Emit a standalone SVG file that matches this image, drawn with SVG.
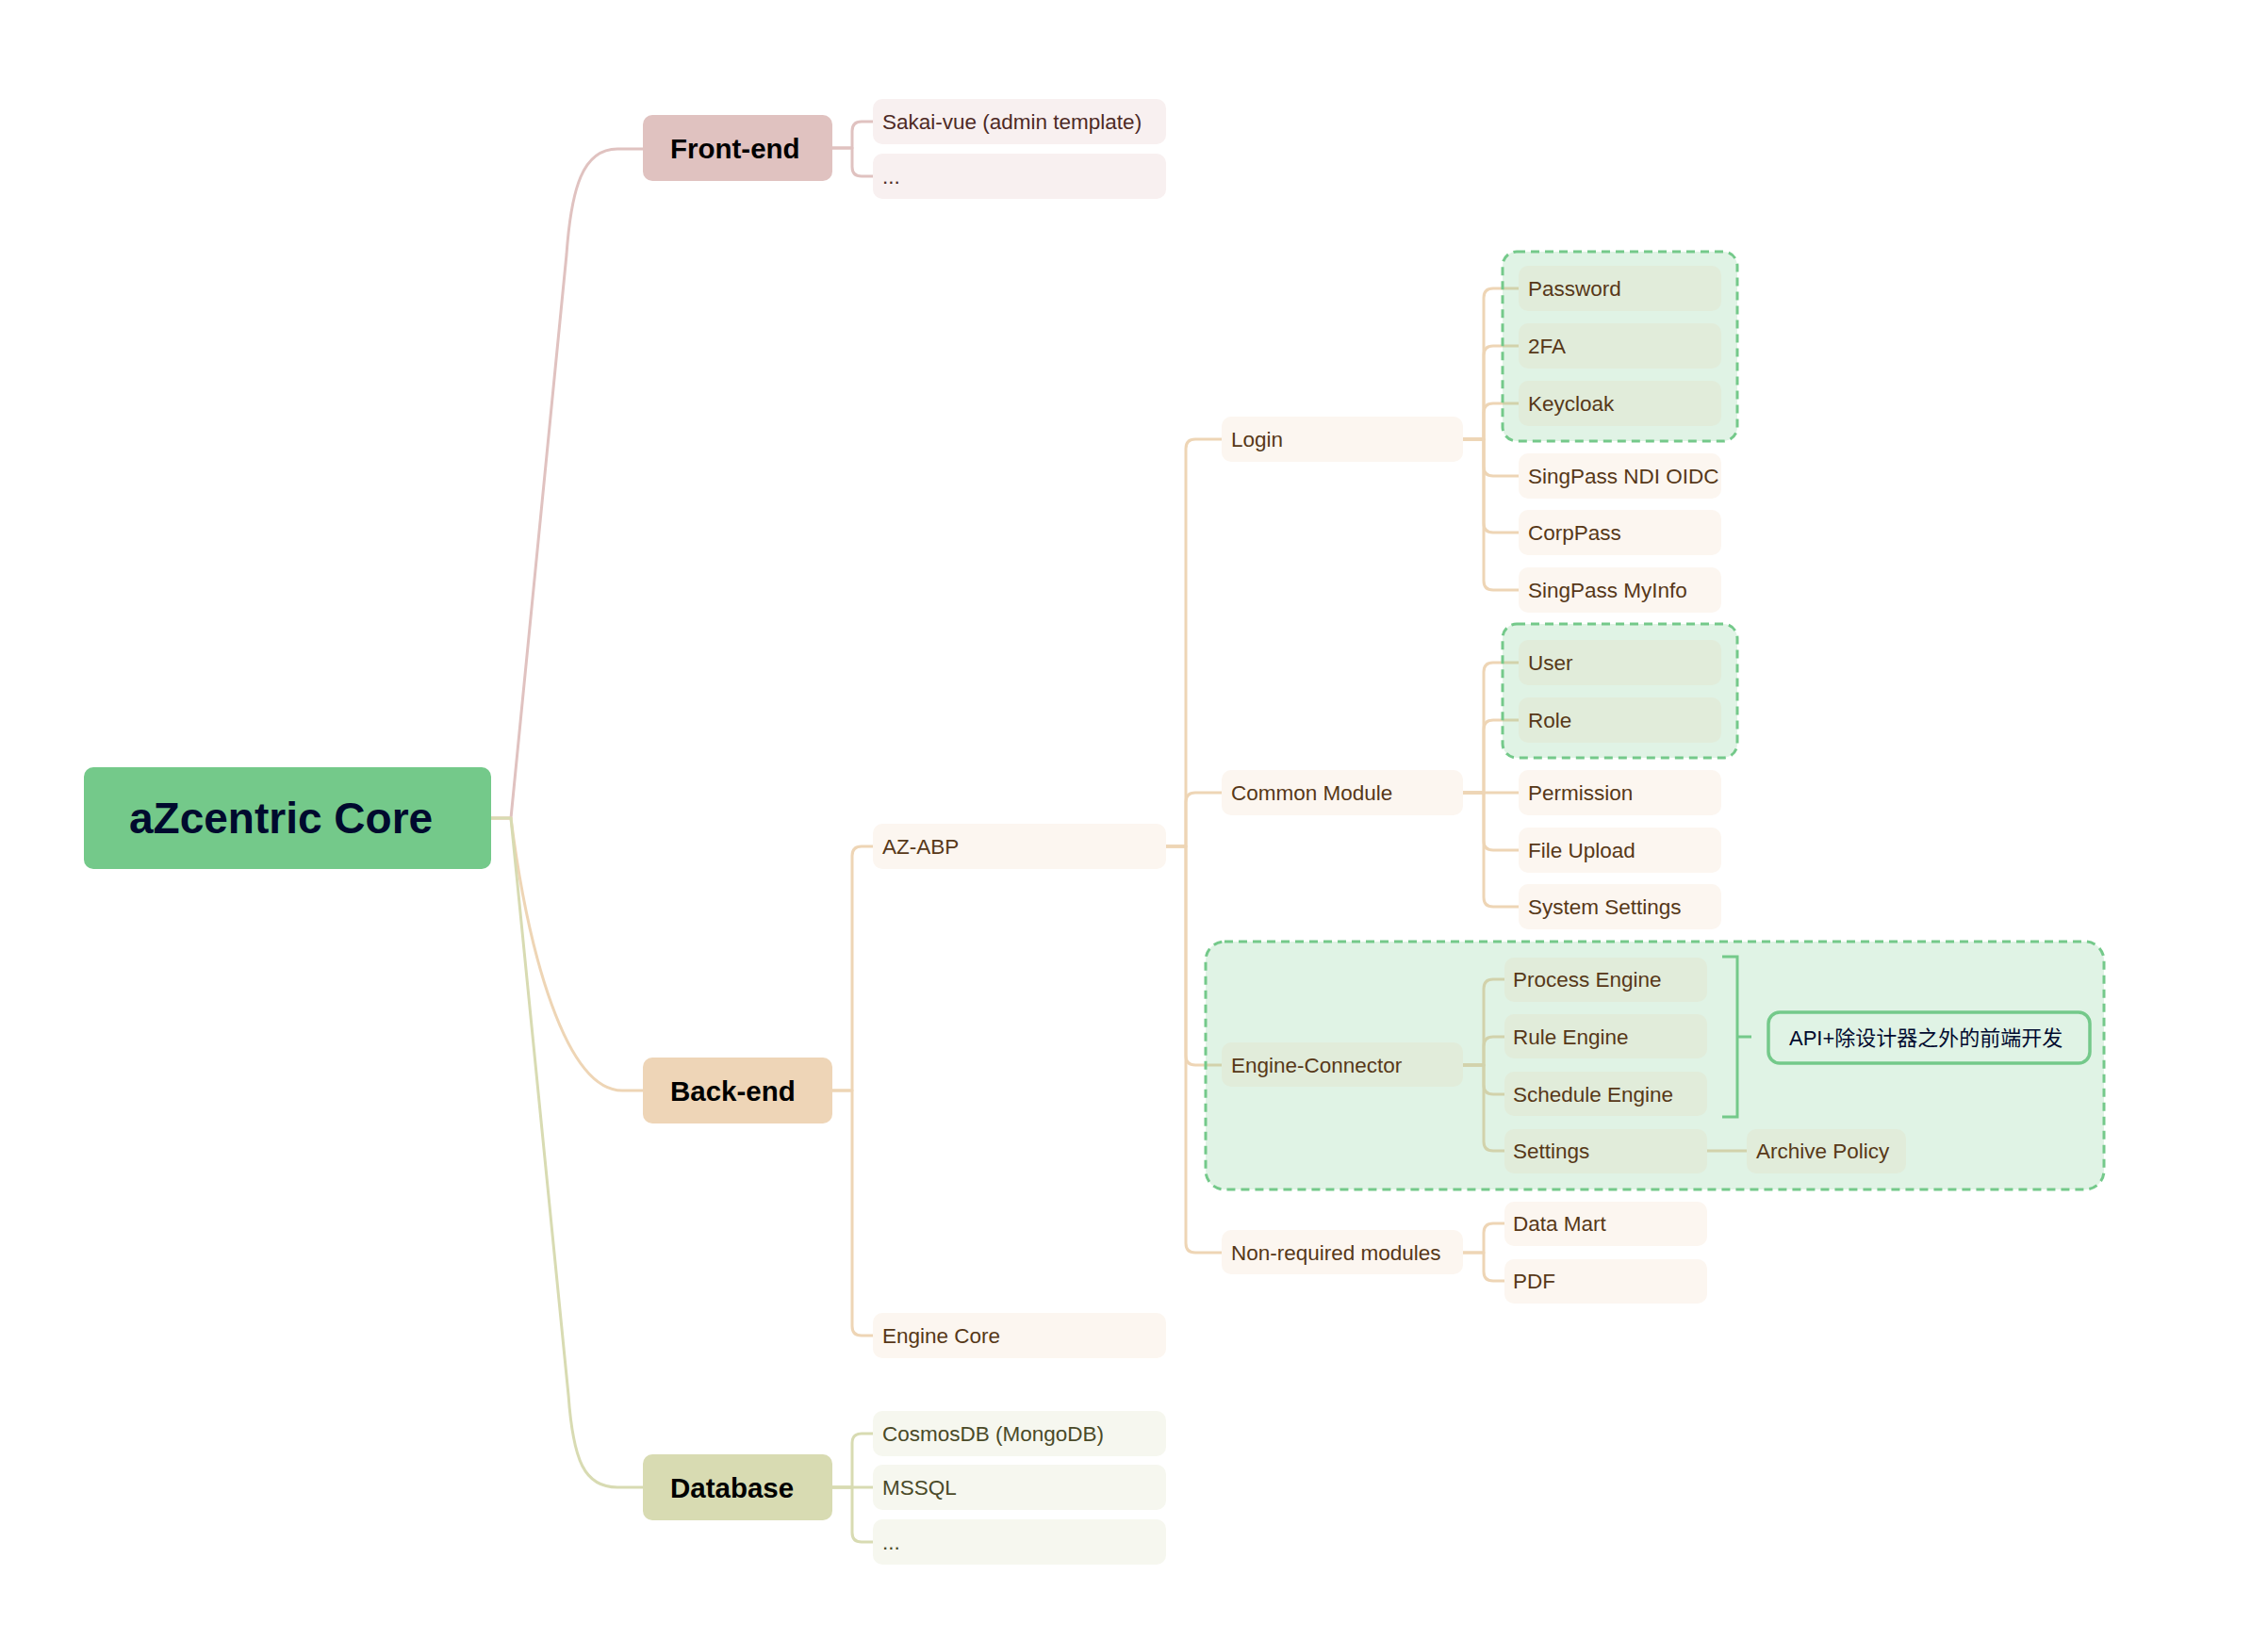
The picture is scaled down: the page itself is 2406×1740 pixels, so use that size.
<svg xmlns="http://www.w3.org/2000/svg" width="2406" height="1740" viewBox="0 0 2406 1740">
<style>
.c{fill:none;stroke-width:3;stroke-linejoin:round}
.fe{stroke:#e0c2c0}.be{stroke:#eed5b5}.db{stroke:#d8dbb2}
.sum{fill:none;stroke:#74c98a;stroke-width:3}
.grp{fill:rgba(116,201,138,0.22);stroke:#74c98a;stroke-width:3;stroke-dasharray:9 6}
.t{font-family:"Liberation Sans",Arial,sans-serif;font-size:22.5px}
.l1{font-family:"Liberation Sans",Arial,sans-serif;font-size:29.5px;font-weight:bold;fill:#000}
.nfe{fill:#f8f0f0}.tfe{fill:#4e2a25}
.nbe{fill:#fcf6f0}.tbe{fill:#573818}
.ndb{fill:#f6f7ef}.tdb{fill:#4a4a28}
.ngr{fill:#e1ecda}
</style>
<rect width="2406" height="1740" fill="#fff"/>
<g id="connectors">
<path class="c fe" d="M521,868 L542,868 L601,270 C606,200 618,158 655,158 L682,158"/>
<path class="c be" d="M521,868 L542,868 C560,1010 600,1157 660,1157 L682,1157"/>
<path class="c db" d="M521,868 L542,868 L603,1480 C608,1550 620,1578 655,1578 L682,1578"/>
<path class="c fe" d="M883,157 L904,157 L904,139 Q904,129 914,129 L926,129"/>
<path class="c fe" d="M883,157 L904,157 L904,177 Q904,187 914,187 L926,187"/>
<path class="c be" d="M883,1157 L904,1157 L904,908 Q904,898 914,898 L926,898"/>
<path class="c be" d="M883,1157 L904,1157 L904,1407 Q904,1417 914,1417 L926,1417"/>
<path class="c db" d="M883,1578 L904,1578 L904,1531 Q904,1521 914,1521 L926,1521"/>
<path class="c db" d="M883,1578 L926,1578"/>
<path class="c db" d="M883,1578 L904,1578 L904,1626 Q904,1636 914,1636 L926,1636"/>
<path class="c be" d="M1237,898 L1258,898 L1258,476 Q1258,466 1268,466 L1296,466"/>
<path class="c be" d="M1237,898 L1258,898 L1258,851 Q1258,841 1268,841 L1296,841"/>
<path class="c be" d="M1237,898 L1258,898 L1258,1120 Q1258,1130 1268,1130 L1296,1130"/>
<path class="c be" d="M1237,898 L1258,898 L1258,1319 Q1258,1329 1268,1329 L1296,1329"/>
<path class="c be" d="M1552,466 L1574,466 L1574,316 Q1574,306 1584,306 L1611,306"/>
<path class="c be" d="M1552,466 L1574,466 L1574,377 Q1574,367 1584,367 L1611,367"/>
<path class="c be" d="M1552,466 L1574,466 L1574,438 Q1574,428 1584,428 L1611,428"/>
<path class="c be" d="M1552,466 L1574,466 L1574,495 Q1574,505 1584,505 L1611,505"/>
<path class="c be" d="M1552,466 L1574,466 L1574,555 Q1574,565 1584,565 L1611,565"/>
<path class="c be" d="M1552,466 L1574,466 L1574,616 Q1574,626 1584,626 L1611,626"/>
<path class="c be" d="M1552,841 L1574,841 L1574,713 Q1574,703 1584,703 L1611,703"/>
<path class="c be" d="M1552,841 L1574,841 L1574,774 Q1574,764 1584,764 L1611,764"/>
<path class="c be" d="M1552,841 L1611,841"/>
<path class="c be" d="M1552,841 L1574,841 L1574,892 Q1574,902 1584,902 L1611,902"/>
<path class="c be" d="M1552,841 L1574,841 L1574,952 Q1574,962 1584,962 L1611,962"/>
<path class="c be" d="M1552,1130 L1574,1130 L1574,1049 Q1574,1039 1584,1039 L1596,1039"/>
<path class="c be" d="M1552,1130 L1574,1130 L1574,1110 Q1574,1100 1584,1100 L1596,1100"/>
<path class="c be" d="M1552,1130 L1574,1130 L1574,1151 Q1574,1161 1584,1161 L1596,1161"/>
<path class="c be" d="M1552,1130 L1574,1130 L1574,1211 Q1574,1221 1584,1221 L1596,1221"/>
<path class="c be" d="M1552,1329 L1574,1329 L1574,1308 Q1574,1298 1584,1298 L1596,1298"/>
<path class="c be" d="M1552,1329 L1574,1329 L1574,1349 Q1574,1359 1584,1359 L1596,1359"/>
<path class="c be" d="M1809,1221 L1853,1221"/>
</g>
<g id="boundaries">
<rect class="grp" x="1594" y="267" width="249" height="201" rx="15"/>
<rect class="grp" x="1594" y="662" width="249" height="142" rx="15"/>
<rect class="grp" x="1279" y="999" width="953" height="263" rx="20"/>
</g>
<g id="summary">
<path class="sum" d="M1827,1015 L1843,1015 L1843,1185 L1827,1185 M1843,1100 L1858,1100"/>
</g>
<g id="root"><rect x="89" y="814" width="432" height="108" rx="10" fill="#74c98a"/><text x="137" y="884" font-family="Liberation Sans, Arial, sans-serif" font-size="46" font-weight="bold" fill="#000a2e">aZcentric Core</text></g>
<g id="front-end"><rect x="682" y="122" width="201" height="70" rx="10" fill="#e0c2c0"/><text class="l1" x="711" y="167.5">Front-end</text></g>
<g id="back-end"><rect x="682" y="1122" width="201" height="70" rx="10" fill="#eed5b7"/><text class="l1" x="711" y="1167.5">Back-end</text></g>
<g id="database"><rect x="682" y="1543" width="201" height="70" rx="10" fill="#d8dbb2"/><text class="l1" x="711" y="1588.5">Database</text></g>
<g id="sakai"><rect class="nfe" x="926" y="105" width="311" height="48" rx="10"/><text class="t tfe" x="936" y="137">Sakai-vue (admin template)</text></g>
<g id="fe-more"><rect class="nfe" x="926" y="163" width="311" height="48" rx="10"/><text class="t tfe" x="936" y="195">...</text></g>
<g id="az-abp"><rect class="nbe" x="926" y="874" width="311" height="48" rx="10"/><text class="t tbe" x="936" y="906">AZ-ABP</text></g>
<g id="engine-core"><rect class="nbe" x="926" y="1393" width="311" height="48" rx="10"/><text class="t tbe" x="936" y="1425">Engine Core</text></g>
<g id="cosmosdb"><rect class="ndb" x="926" y="1497" width="311" height="48" rx="10"/><text class="t tdb" x="936" y="1529">CosmosDB (MongoDB)</text></g>
<g id="mssql"><rect class="ndb" x="926" y="1554" width="311" height="48" rx="10"/><text class="t tdb" x="936" y="1586">MSSQL</text></g>
<g id="db-more"><rect class="ndb" x="926" y="1612" width="311" height="48" rx="10"/><text class="t tdb" x="936" y="1644">...</text></g>
<g id="login"><rect class="nbe" x="1296" y="442" width="256" height="48" rx="10"/><text class="t tbe" x="1306" y="474">Login</text></g>
<g id="common-module"><rect class="nbe" x="1296" y="817" width="256" height="48" rx="10"/><text class="t tbe" x="1306" y="849">Common Module</text></g>
<g id="engine-connector"><rect class="ngr" x="1296" y="1106" width="256" height="47" rx="10"/><text class="t tbe" x="1306" y="1138">Engine-Connector</text></g>
<g id="non-required"><rect class="nbe" x="1296" y="1305" width="256" height="47" rx="10"/><text class="t tbe" x="1306" y="1337">Non-required modules</text></g>
<g id="password"><rect class="ngr" x="1611" y="282" width="215" height="48" rx="10"/><text class="t tbe" x="1621" y="314">Password</text></g>
<g id="twofa"><rect class="ngr" x="1611" y="343" width="215" height="48" rx="10"/><text class="t tbe" x="1621" y="375">2FA</text></g>
<g id="keycloak"><rect class="ngr" x="1611" y="404" width="215" height="48" rx="10"/><text class="t tbe" x="1621" y="436">Keycloak</text></g>
<g id="singpass-ndi"><rect class="nbe" x="1611" y="481" width="215" height="48" rx="10"/><text class="t tbe" x="1621" y="513">SingPass NDI OIDC</text></g>
<g id="corppass"><rect class="nbe" x="1611" y="541" width="215" height="48" rx="10"/><text class="t tbe" x="1621" y="573">CorpPass</text></g>
<g id="singpass-myinfo"><rect class="nbe" x="1611" y="602" width="215" height="48" rx="10"/><text class="t tbe" x="1621" y="634">SingPass MyInfo</text></g>
<g id="user"><rect class="ngr" x="1611" y="679" width="215" height="48" rx="10"/><text class="t tbe" x="1621" y="711">User</text></g>
<g id="role"><rect class="ngr" x="1611" y="740" width="215" height="48" rx="10"/><text class="t tbe" x="1621" y="772">Role</text></g>
<g id="permission"><rect class="nbe" x="1611" y="817" width="215" height="48" rx="10"/><text class="t tbe" x="1621" y="849">Permission</text></g>
<g id="file-upload"><rect class="nbe" x="1611" y="878" width="215" height="48" rx="10"/><text class="t tbe" x="1621" y="910">File Upload</text></g>
<g id="system-settings"><rect class="nbe" x="1611" y="938" width="215" height="48" rx="10"/><text class="t tbe" x="1621" y="970">System Settings</text></g>
<g id="process-engine"><rect class="ngr" x="1596" y="1016" width="215" height="47" rx="10"/><text class="t tbe" x="1605" y="1047">Process Engine</text></g>
<g id="rule-engine"><rect class="ngr" x="1596" y="1076" width="215" height="47" rx="10"/><text class="t tbe" x="1605" y="1108">Rule Engine</text></g>
<g id="schedule-engine"><rect class="ngr" x="1596" y="1137" width="215" height="47" rx="10"/><text class="t tbe" x="1605" y="1169">Schedule Engine</text></g>
<g id="settings"><rect class="ngr" x="1596" y="1198" width="215" height="47" rx="10"/><text class="t tbe" x="1605" y="1229">Settings</text></g>
<g id="archive-policy"><rect class="ngr" x="1853" y="1198" width="169" height="47" rx="10"/><text class="t tbe" x="1863" y="1229">Archive Policy</text></g>
<g id="data-mart"><rect class="nbe" x="1596" y="1275" width="215" height="47" rx="10"/><text class="t tbe" x="1605" y="1306">Data Mart</text></g>
<g id="pdf"><rect class="nbe" x="1596" y="1336" width="215" height="47" rx="10"/><text class="t tbe" x="1605" y="1367">PDF</text></g>
<g id="api-note"><rect x="1876" y="1074" width="341" height="54" rx="12" fill="none" stroke="#74c98a" stroke-width="3.5"/><text x="1898" y="1109" font-family="Liberation Sans, Noto Sans CJK SC, sans-serif" font-size="22" fill="#000a2e">API+除设计器之外的前端开发</text></g>
</svg>
